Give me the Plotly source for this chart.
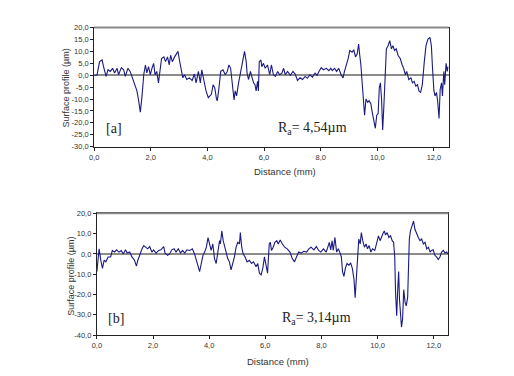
import plotly.graph_objects as go

# ---- Panel [a] profile (distance mm, height µm) ----
xa = [0.0, 0.1, 0.19, 0.28, 0.33, 0.42, 0.49, 0.57, 0.65, 0.72, 0.81, 0.86, 0.96, 1.04, 1.1,
      1.19, 1.27, 1.36, 1.43, 1.51, 1.57, 1.63, 1.69, 1.75, 1.81, 1.86, 1.92, 1.98, 2.04, 2.1,
      2.15, 2.21, 2.27, 2.32, 2.38, 2.46, 2.52, 2.59, 2.65, 2.7, 2.76, 2.84, 2.9, 2.96, 3.01,
      3.07, 3.13, 3.19, 3.27, 3.36, 3.46, 3.54, 3.6, 3.68, 3.75, 3.8, 3.89, 3.95, 4.03, 4.14,
      4.2, 4.26, 4.32, 4.35, 4.4, 4.47, 4.55, 4.63, 4.7, 4.76, 4.82, 4.87, 4.94, 4.98, 5.03,
      5.1, 5.17, 5.24, 5.31, 5.37, 5.4, 5.45, 5.52, 5.58, 5.63, 5.68, 5.72, 5.77, 5.8, 5.83,
      5.89, 5.92, 5.98, 6.04, 6.12, 6.2, 6.26, 6.33, 6.4, 6.48, 6.55, 6.63, 6.69, 6.75, 6.83,
      6.93, 7.02, 7.1, 7.18, 7.27, 7.36, 7.45, 7.53, 7.62, 7.71, 7.8, 7.87, 7.94, 8.02, 8.1,
      8.2, 8.29, 8.36, 8.41, 8.49, 8.56, 8.64, 8.72, 8.79, 8.84, 8.91, 8.97, 9.03, 9.11, 9.17,
      9.23, 9.29, 9.34, 9.38, 9.42, 9.47, 9.52, 9.55, 9.6, 9.66, 9.71, 9.77, 9.83, 9.89, 9.93,
      9.98, 10.03, 10.07, 10.11, 10.15, 10.19, 10.23, 10.28, 10.32, 10.38, 10.44, 10.5, 10.55,
      10.61, 10.67, 10.73, 10.81, 10.88, 10.93, 10.99, 11.04, 11.11, 11.19, 11.24, 11.3, 11.36,
      11.42, 11.47, 11.53, 11.59, 11.62, 11.66, 11.72, 11.79, 11.86, 11.91, 11.95, 12.0, 12.04,
      12.09, 12.13, 12.18, 12.22, 12.27, 12.3, 12.35, 12.38, 12.43, 12.47, 12.5]
ya = [0.0, 0.0, 5.7, 6.4, 3.6, -0.5, 2.3, 1.6, 2.9, 0.9, 2.9, 0.2, 3.2, 2.3, -0.5,
      2.9, 1.6, -1.8, -4.6, -6.6, -10.7, -15.5, -8.7, 0.2, 4.3, 1.0, 3.6, 0.2, 2.9, 5.0,
      0.2, 1.6, -3.2, 1.6, 7.0, 7.7, 5.7, 7.7, 4.3, 8.4, 5.7, 7.7, 9.0, 10.0, 6.4,
      2.3, -1.1, 0.2, -1.8, -1.1, -2.2, 0.5, -3.2, 1.6, -3.2, 2.3, -2.6, -6.6, -9.4, -8.0,
      -4.0, -5.3, -10.0, -10.7, -6.0, 1.6, 2.3, 0.2, 1.6, 4.3, 2.9, -2.6, -10.4, -6.6, -8.7,
      -3.2, 1.6, 5.7, 10.0, 5.7, 0.9, -1.8, 1.6, -1.1, -3.2, -4.0, -6.6, -2.6, -6.6, 5.7,
      6.4, 3.6, 5.0, 2.9, 4.3, 0.2, 4.3, 0.2, -0.5, 1.6, 0.2, 0.9, 2.9, 0.2, 1.6,
      0.0, 1.6, 0.5, -2.2, -1.1, -1.8, -0.5, -1.3, 0.2, -0.8, 0.9, 0.0, 1.6, 3.2, 2.3,
      2.9, 1.9, 2.9, 1.9, 2.9, 1.6, 2.9, 0.2, -1.1, 1.6, 4.3, 7.0, 10.4, 9.7, 10.7,
      7.7, 9.0, 13.1, 8.4, 4.3, -4.0, -10.7, -16.8, -10.0, -11.4, -10.7, -12.0, -16.1, -20.2, -22.3,
      -16.8, -16.1, -5.3, -3.2, -10.0, -23.0, -13.4, 0.2, 11.1, 12.4, 14.5, 11.1, 12.4,
      10.4, 11.1, 8.4, 7.0, 4.3, 2.9, 0.2, 1.6, -1.8, -1.1, -3.2, -2.6, -4.6,
      -4.0, -6.6, -7.2, -4.0, 1.6, 5.7, 12.4, 15.2, 15.9, 12.4, 2.9, -6.6, -8.7,
      -7.2, -10.7, -18.2, -6.0, -3.2, -8.7, 1.6, -4.0, 5.0, 1.6, 3.6]

# ---- Panel [b] profile ----
xb = [0.0, 0.05, 0.08, 0.14, 0.2, 0.26, 0.32, 0.4, 0.49, 0.55, 0.63, 0.7, 0.79, 0.87, 0.94,
      1.02, 1.08, 1.17, 1.25, 1.34, 1.41, 1.46, 1.53, 1.61, 1.67, 1.73, 1.81, 1.88, 1.96, 2.02,
      2.11, 2.2, 2.28, 2.38, 2.43, 2.52, 2.59, 2.67, 2.75, 2.82, 2.9, 2.98, 3.05, 3.13, 3.21,
      3.31, 3.4, 3.48, 3.54, 3.6, 3.66, 3.72, 3.78, 3.84, 3.9, 3.96, 4.02, 4.07, 4.13, 4.19,
      4.25, 4.31, 4.37, 4.4, 4.45, 4.5, 4.55, 4.6, 4.66, 4.72, 4.78, 4.84, 4.9, 4.96, 5.02,
      5.08, 5.11, 5.16, 5.21, 5.28, 5.35, 5.43, 5.51, 5.58, 5.67, 5.73, 5.79, 5.85, 5.91, 5.97,
      6.03, 6.08, 6.14, 6.18, 6.22, 6.28, 6.34, 6.41, 6.46, 6.53, 6.61, 6.69, 6.78, 6.88, 6.96,
      7.04, 7.11, 7.19, 7.28, 7.37, 7.47, 7.55, 7.63, 7.73, 7.82, 7.9, 7.98, 8.07, 8.17, 8.22,
      8.28, 8.33, 8.38, 8.42, 8.48, 8.54, 8.6, 8.65, 8.71, 8.75, 8.8, 8.85, 8.91, 8.98, 9.04,
      9.1, 9.16, 9.2, 9.24, 9.29, 9.33, 9.38, 9.42, 9.47, 9.53, 9.59, 9.64, 9.7, 9.76, 9.82,
      9.9, 9.96, 10.03, 10.09, 10.15, 10.19, 10.24, 10.28, 10.34, 10.4, 10.46, 10.52, 10.57, 10.61,
      10.64, 10.68, 10.71, 10.75, 10.78, 10.82, 10.85, 10.89, 10.93, 10.98, 11.02, 11.07, 11.09,
      11.13, 11.17, 11.23, 11.28, 11.33, 11.39, 11.45, 11.51, 11.57, 11.63, 11.69, 11.75, 11.81,
      11.87, 11.92, 11.98, 12.04, 12.1, 12.16, 12.22, 12.28, 12.34, 12.4, 12.46, 12.5]
yb = [-8.7, 1.7, 2.5, -3.1, -7.1, -3.1, -3.9, -1.5, -1.5, 1.7, 0.9, 2.0, 0.9, 1.7, 0.0,
      2.0, 0.4, 0.9, -1.5, -3.1, -6.0, -3.1, 0.0, 2.5, 4.1, 3.3, 2.5, 3.6, 0.9, 2.0,
      0.4, 1.7, 2.0, 3.6, 0.4, -0.7, 0.0, 2.0, 2.5, 0.9, 2.5, 0.4, 1.7, 0.4, 2.0,
      1.7, 2.5, 0.0, -3.1, -6.4, -8.7, -4.7, -0.7, 0.9, 3.3, 8.0, 4.9, 1.7, 4.9, -2.3,
      -4.7, 1.7, 6.5, 4.9, 11.3, 6.5, 3.3, 0.0, -2.3, -3.9, -7.9, -4.7, -1.5, 3.3, 5.7,
      4.9, 10.5, 3.3, 0.0, -1.5, -3.9, -3.1, -4.7, -3.9, -6.3, -4.7, -9.5, -10.3, -7.1, -1.5,
      -5.5, -9.5, 4.9, 5.7, 1.7, 3.3, 5.7, 6.5, 4.9, 6.8, 4.9, 3.3, 2.5, 0.9, -2.3,
      -3.9, -1.5, 0.9, 0.4, 1.3, 0.9, 2.5, 3.3, 2.0, 3.6, 1.7, 0.9, 2.5, 0.9, 3.3,
      5.7, 2.0, 6.5, 1.7, 8.1, 0.9, 2.5, 0.9, -1.5, -8.7, -11.1, -7.1, -4.7, -5.5, -4.4,
      -7.1, -12.7, -21.5, -11.1, 1.7, 7.3, 4.9, 10.5, 6.5, 3.3, 4.9, 2.5, 4.1, 0.9, 2.5,
      1.7, 4.9, 8.9, 6.5, 8.9, 10.0, 11.3, 9.4, 10.5, 8.1, 8.9, 6.5, 5.7, -1.5,
      -19.2, -30.4, -19.2, -8.7, -22.4, -28.8, -36.0, -32.0, -17.6, -24.0, -25.6, -21.5, -5.5,
      7.3, 11.3, 14.5, 16.1, 12.1, 9.7, 8.1, 6.5, 7.3, 4.9, 5.7, 2.5, 3.3,
      0.9, 1.7, 2.0, -0.7, -1.5, -2.8, -1.5, 0.9, 1.7, 0.4, 0.9, 0.0]

# ---- axis ticks ----
xticks = [0, 2, 4, 6, 8, 10, 12]
xticklabels = ["0,0", "2,0", "4,0", "6,0", "8,0", "10,0", "12,0"]
ya_ticks = [20, 15, 10, 5, 0, -5, -10, -15, -20, -25, -30]
ya_labels = ["20,0", "15,0", "10,0", "5,0", "0,0", "-5,0", "-10,0", "-15,0", "-20,0", "-25,0", "-30,0"]
yb_ticks = [20, 10, 0, -10, -20, -30, -40]
yb_labels = ["20,0", "10,0", "0,0", "-10,0", "-20,0", "-30,0", "-40,0"]

# page has an 8px body margin: the figure is placed at (8, 8)
OFF = 8
W, H = 514 - OFF, 376 - OFF


def px(v):
    return (v - OFF) / W


def py(v):
    return 1 - (v - OFF) / H


LINE = "#1a1a82"
TXT = "#333333"
tickfont = dict(family="Liberation Sans, Arial", size=7.5, color=TXT)

fig = go.Figure()
fig.add_trace(go.Scatter(x=xa, y=ya, mode="lines", line=dict(color=LINE, width=1.1),
                         xaxis="x", yaxis="y", showlegend=False, hoverinfo="skip"))
fig.add_trace(go.Scatter(x=xb, y=yb, mode="lines", line=dict(color=LINE, width=1.1),
                         xaxis="x2", yaxis="y2", showlegend=False, hoverinfo="skip"))


def xax(domain, anchor):
    return dict(domain=domain, anchor=anchor, range=[0, 12.52], tickvals=xticks,
                ticktext=xticklabels, showgrid=False, zeroline=False, showline=True,
                mirror=True, linecolor="#222222", linewidth=1, ticks="outside", ticklen=3,
                tickcolor="#222222", tickfont=tickfont)


def yax(domain, anchor, rng, tv, tt):
    return dict(domain=domain, anchor=anchor, range=rng, tickvals=tv, ticktext=tt,
                showgrid=False, zeroline=True, zerolinecolor="#8c8c8c", zerolinewidth=1.5,
                showline=True, mirror=True, linecolor="#222222", linewidth=1,
                ticks="outside", ticklen=3, tickcolor="#222222", tickfont=tickfont)


fig.update_layout(
    width=W, height=H, margin=dict(l=0, r=0, t=0, b=0),
    paper_bgcolor="white", plot_bgcolor="white",
    xaxis=xax([px(90), px(448)], "y"),
    yaxis=yax([py(146), py(24)], "x", [-30, 20], ya_ticks, ya_labels),
    xaxis2=xax([px(92.7), px(447.7)], "y2"),
    yaxis2=yax([py(339.3), py(214.3)], "x2", [-40, 20], yb_ticks, yb_labels),
)

# gray top border of each frame
for xr, yr in (("x domain", "y domain"), ("x2 domain", "y2 domain")):
    fig.add_shape(type="line", xref=xr, yref=yr, x0=0, x1=1, y0=1, y1=1,
                  line=dict(color="#8a8a8a", width=2))

axfont = dict(family="Liberation Sans, Arial", size=9.5, color=TXT)
serif = dict(family="Liberation Serif, Times New Roman", size=14, color="#222222")
ann = [
    dict(text="Surface profile (µm)", x=px(62), y=py(86), textangle=-90, font=dict(axfont, size=9)),
    dict(text="Distance (mm)", x=px(283), y=py(171), font=axfont),
    dict(text="Surface profile (µm)", x=px(67), y=py(279), textangle=-90, font=dict(axfont, size=9)),
    dict(text="Distance (mm)", x=px(276), y=py(366.5), font=axfont),
    dict(text="[a]", x=px(110), y=py(127.5), font=serif),
    dict(text="R<sub>a</sub>= 4,54µm", x=px(310.5), y=py(127.5), font=serif),
    dict(text="[b]", x=px(112), y=py(322.5), font=serif),
    dict(text="R<sub>a</sub>= 3,14µm", x=px(314.5), y=py(322.5), font=serif),
]
for a in ann:
    fig.add_annotation(xref="paper", yref="paper", showarrow=False,
                       xanchor="center", yanchor="middle", **a)

fig.write_html("out.html")
